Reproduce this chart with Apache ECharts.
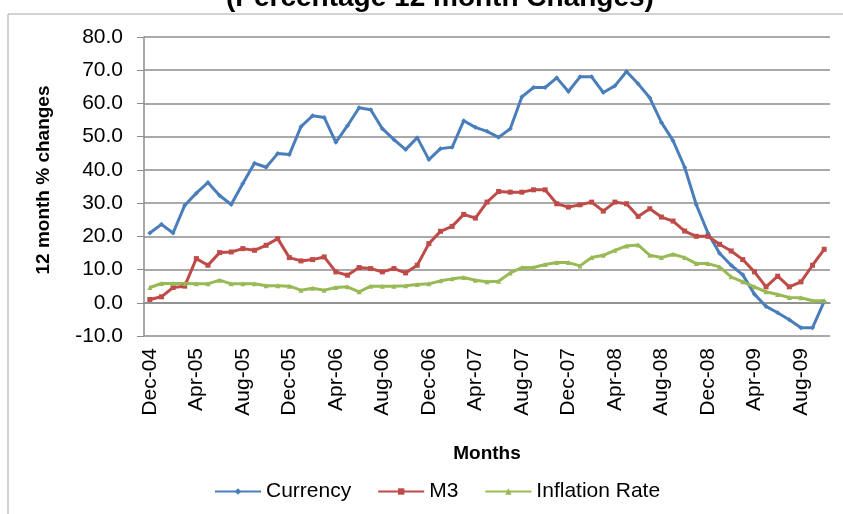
<!DOCTYPE html>
<html>
<head>
<meta charset="utf-8">
<script src="https://cdn.jsdelivr.net/npm/echarts@6/dist/echarts.min.js"></script>
<style>
  html, body { margin: 0; padding: 0; background: #fff; }
  #main { width: 843px; height: 514px; }
</style>
</head>
<body>
<div id="main"></div>
<script>
// monthly, Dec-04 .. Oct-09
const months = [
  'Dec-04', 'Jan-05', 'Feb-05', 'Mar-05', 'Apr-05', 'May-05', 'Jun-05', 'Jul-05', 'Aug-05', 'Sep-05', 'Oct-05', 'Nov-05',
  'Dec-05', 'Jan-06', 'Feb-06', 'Mar-06', 'Apr-06', 'May-06', 'Jun-06', 'Jul-06', 'Aug-06', 'Sep-06', 'Oct-06', 'Nov-06',
  'Dec-06', 'Jan-07', 'Feb-07', 'Mar-07', 'Apr-07', 'May-07', 'Jun-07', 'Jul-07', 'Aug-07', 'Sep-07', 'Oct-07', 'Nov-07',
  'Dec-07', 'Jan-08', 'Feb-08', 'Mar-08', 'Apr-08', 'May-08', 'Jun-08', 'Jul-08', 'Aug-08', 'Sep-08', 'Oct-08', 'Nov-08',
  'Dec-08', 'Jan-09', 'Feb-09', 'Mar-09', 'Apr-09', 'May-09', 'Jun-09', 'Jul-09', 'Aug-09', 'Sep-09', 'Oct-09'
]

const currency = [
  21.0, 23.6, 21.0, 29.3, 33.0, 36.2, 32.3, 29.6, 35.9, 42.0, 40.8, 44.9,
  44.6, 53.0, 56.3, 55.8, 48.3, 53.3, 58.7, 58.1, 52.4, 49.1, 46.1, 49.7,
  43.1, 46.4, 46.8, 54.8, 52.8, 51.6, 49.8, 52.4, 62.0, 64.8, 64.8, 67.7,
  63.6, 68.0, 68.0, 63.3, 65.3, 69.6, 65.9, 61.7, 54.3, 48.8, 40.8, 29.5,
  21.0, 14.9, 11.3, 8.4, 2.6, -1.1, -3.0, -5.1, -7.5, -7.5, 0.4
]

const m3 = [
  1.0, 1.8, 4.6, 5.0, 13.3, 11.3, 15.1, 15.3, 16.3, 15.8, 17.3, 19.3,
  13.6, 12.6, 13.0, 13.8, 9.3, 8.3, 10.6, 10.3, 9.3, 10.3, 9.0, 11.3,
  17.8, 21.5, 23.0, 26.6, 25.5, 30.3, 33.5, 33.3, 33.3, 34.0, 34.0, 29.8,
  28.8, 29.5, 30.3, 27.6, 30.3, 29.8, 26.0, 28.3, 25.8, 24.6, 21.6, 20.0,
  20.0, 17.6, 15.6, 13.0, 9.3, 4.8, 8.0, 4.8, 6.3, 11.3, 16.1
]

const inflation = [
  4.6, 5.8, 5.8, 5.8, 5.7, 5.7, 6.8, 5.7, 5.7, 5.7, 5.1, 5.1,
  5.0, 3.8, 4.4, 3.8, 4.6, 4.8, 3.3, 5.0, 5.0, 5.0, 5.1, 5.5,
  5.7, 6.6, 7.2, 7.6, 6.8, 6.3, 6.5, 9.0, 10.6, 10.6, 11.5, 12.1,
  12.1, 11.1, 13.6, 14.3, 15.8, 17.1, 17.4, 14.3, 13.6, 14.6, 13.6, 11.8,
  11.8, 10.8, 7.8, 6.3, 4.8, 3.3, 2.5, 1.6, 1.5, 0.6, 0.6
]

const font = 'Liberation Sans, Arial, sans-serif'
const gridColor = '#8c8c8c'

let myChart = echarts.init(document.getElementById('main'))

const lineSeries = (name, data, color, symbol) => ({
    name: name,
    type: 'line',
    data: data,
    symbol: symbol,
    symbolSize: 5,
    showSymbol: true,
    lineStyle: { color: color, width: 3 },
    itemStyle: { color: color },
    emphasis: { disabled: true },
    animation: false
})

let option = {
    backgroundColor: '#fff',
    animation: false,
    title: {
        text: '(Percentage 12 month Changes)',
        left: 221,
        top: -21,
        textStyle: { fontFamily: font, fontSize: 28, fontWeight: 'bold', color: '#000' }
    },
    graphic: [
        {
            type: 'rect',
            shape: { x: 8, y: 14, width: 900, height: 600 },
            style: { fill: 'none', stroke: '#a6a6a6', lineWidth: 1 },
            silent: true
        },
        {
            type: 'text',
            x: 44,
            y: 180,
            rotation: Math.PI / 2,
            style: {
                text: '12 month % changes',
                font: 'bold 19px ' + font,
                fill: '#000',
                align: 'center',
                verticalAlign: 'middle'
            },
            silent: true
        }
    ],
    legend: {
        left: 209,
        top: 476,
        itemWidth: 46,
        itemHeight: 8,
        itemGap: 26,
        textStyle: { fontFamily: font, fontSize: 21, color: '#000' },
        data: ['Currency', 'M3', 'Inflation Rate']
    },
    grid: { left: 144, right: 13, top: 37, bottom: 178 },
    xAxis: {
        type: 'category',
        data: months,
        boundaryGap: true,
        name: 'Months',
        nameLocation: 'middle',
        nameGap: 108,
        nameTextStyle: { fontFamily: font, fontSize: 19, fontWeight: 'bold', color: '#000' },
        axisLine: { lineStyle: { color: gridColor, width: 1.5 } },
        axisTick: { show: false },
        axisLabel: {
            interval: 3,
            rotate: 90,
            margin: 12,
            fontFamily: font,
            fontSize: 21,
            color: '#000'
        },
        splitLine: { show: false }
    },
    yAxis: {
        type: 'value',
        min: -10,
        max: 80,
        interval: 10,
        axisLine: { show: true, lineStyle: { color: gridColor, width: 1.5 } },
        axisTick: { show: true, length: 7, lineStyle: { color: gridColor } },
        axisLabel: {
            margin: 21,
            fontFamily: font,
            fontSize: 21,
            color: '#000',
            formatter: v => v.toFixed(1)
        },
        splitLine: { lineStyle: { color: gridColor, width: 1.5 } }
    },
    series: [
        lineSeries('Currency', currency, '#4a7ebb', 'diamond'),
        lineSeries('M3', m3, '#be4b48', 'rect'),
        lineSeries('Inflation Rate', inflation, '#98b954', 'triangle')
    ]
}

myChart.setOption(option)
</script>
</body>
</html>
